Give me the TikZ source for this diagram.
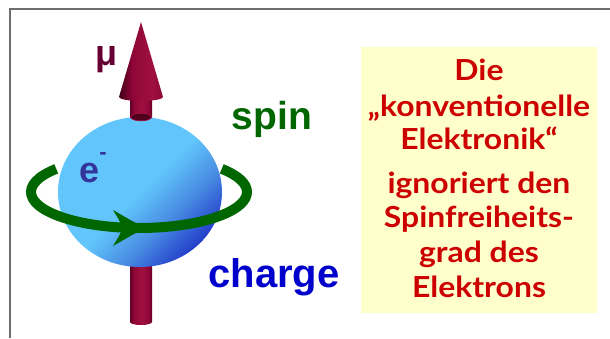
\documentclass[tikz,border=0pt]{standalone}
\usepackage{fontspec}
\setmainfont{Liberation Sans}
\newfontfamily\notefont[FakeStretch=1.1]{Lato}

\definecolor{framegray}{HTML}{6E6E6E}
\definecolor{notebg}{HTML}{FFFFCC}
\definecolor{notered}{HTML}{CC0000}
\definecolor{ringgreen}{HTML}{006600}
\definecolor{mucol}{HTML}{660033}
\definecolor{ecol}{HTML}{333399}
\definecolor{chargecol}{HTML}{0000CC}
\definecolor{sphL}{HTML}{62C6FC}
\definecolor{sphM}{HTML}{4A90E4}
\definecolor{sphD}{HTML}{2038C8}
\definecolor{rodD}{HTML}{5E0022}
\definecolor{rodM}{HTML}{8E0637}
\definecolor{rodL}{HTML}{A0103F}

% cylinder look for the rod: dark rims, brighter middle
\pgfdeclarehorizontalshading{rodshade}{100bp}{color(0bp)=(rodD); color(25bp)=(rodD);
  color(33bp)=(rodM); color(52bp)=(rodL); color(68bp)=(rodM); color(75bp)=(rodD); color(100bp)=(rodD)}
% cone: dark on the left, lighter on the right
\pgfdeclarehorizontalshading{coneshade}{100bp}{color(0bp)=(rodD!70!black); color(25bp)=(rodD!70!black);
  color(40bp)=(rodM); color(62bp)=(rodL); color(75bp)=(rodM); color(100bp)=(rodM)}
% sphere: light upper left, darker toward the lower right
\pgfdeclarehorizontalshading{sphshade}{100bp}{color(0bp)=(sphL); color(50bp)=(sphL);
  color(62bp)=(sphM); color(76bp)=(sphD); color(100bp)=(sphD)}

\tikzset{
  framerule/.style={draw=framegray, line width=1.5pt},
  notetext/.style={anchor=base, text=notered, font=\notefont\bfseries\fontsize{29}{29}\selectfont, inner sep=0pt},
  bigword/.style={anchor=base, font=\bfseries\fontsize{39}{39}\selectfont, inner sep=0pt},
  ring/.style={draw=ringgreen, line width=10pt},
}

\begin{document}
\begin{tikzpicture}[x=1pt, y=1pt]
\useasboundingbox (0,0) rectangle (610,338);
\fill[white] (0,0) rectangle (610,338);

% frame
\draw[framerule] (10,0) -- (10,329) -- (610,329);

% note box
\fill[notebg] (361,25) rectangle (597,291);

% lower part of the axis rod
\shade[shading=rodshade] (130,146) -- (130,16) arc[start angle=180, end angle=360, x radius=11, y radius=3] -- (152,146) -- cycle;

% electron sphere
\shade[shading=sphshade, shading angle=-45] (140,146) ellipse[x radius=82, y radius=75];

% upper part of the rod and its cut on the sphere
\shade[shading=rodshade] (130,221) rectangle (152,242);
\filldraw[fill=rodD!85!black, draw=rodL, line width=0.8pt] (141,221) ellipse[x radius=10.5, y radius=3.8];

% arrow cone
\shade[shading=coneshade] (141,316) -- (163,241) arc[start angle=0, end angle=-180, x radius=22, y radius=4] -- cycle;

% spin ring with arrowhead
\draw[ring] (139,146) ++(140:108 and 36) arc[start angle=140, end angle=400, x radius=108, y radius=36];
\fill[ringgreen] (146,110) .. controls (132,117) .. (113,128) .. controls (118,120) .. (123,110)
  .. controls (118,100) .. (113,92) .. controls (132,103) .. (146,110) -- cycle;

% labels
\node[bigword, text=mucol, font=\bfseries\fontsize{36}{36}\selectfont] (mu) at (107,272) {μ};
\node[bigword, text=ringgreen] (spin) at (272,208) {spin};
\node[bigword, text=ecol, font=\bfseries\fontsize{36}{36}\selectfont] (el) at (93,156) {e\raisebox{0.62em}{\fontsize{22}{22}\selectfont -}};
\node[bigword, text=chargecol, font=\bfseries\fontsize{40}{40}\selectfont] (charge) at (274,51) {charge};

% note text
\node[notetext] (n1) at (479,258) {Die};
\node[notetext] (n2) at (479,222) {„konventionelle};
\node[notetext] (n3) at (479,189) {Elektronik“};
\node[notetext] (n4) at (479,145) {ignoriert den};
\node[notetext] (n5) at (479,111) {Spinfreiheits-};
\node[notetext] (n6) at (479,76) {grad des};
\node[notetext] (n7) at (479,41) {Elektrons};
\end{tikzpicture}
\end{document}
